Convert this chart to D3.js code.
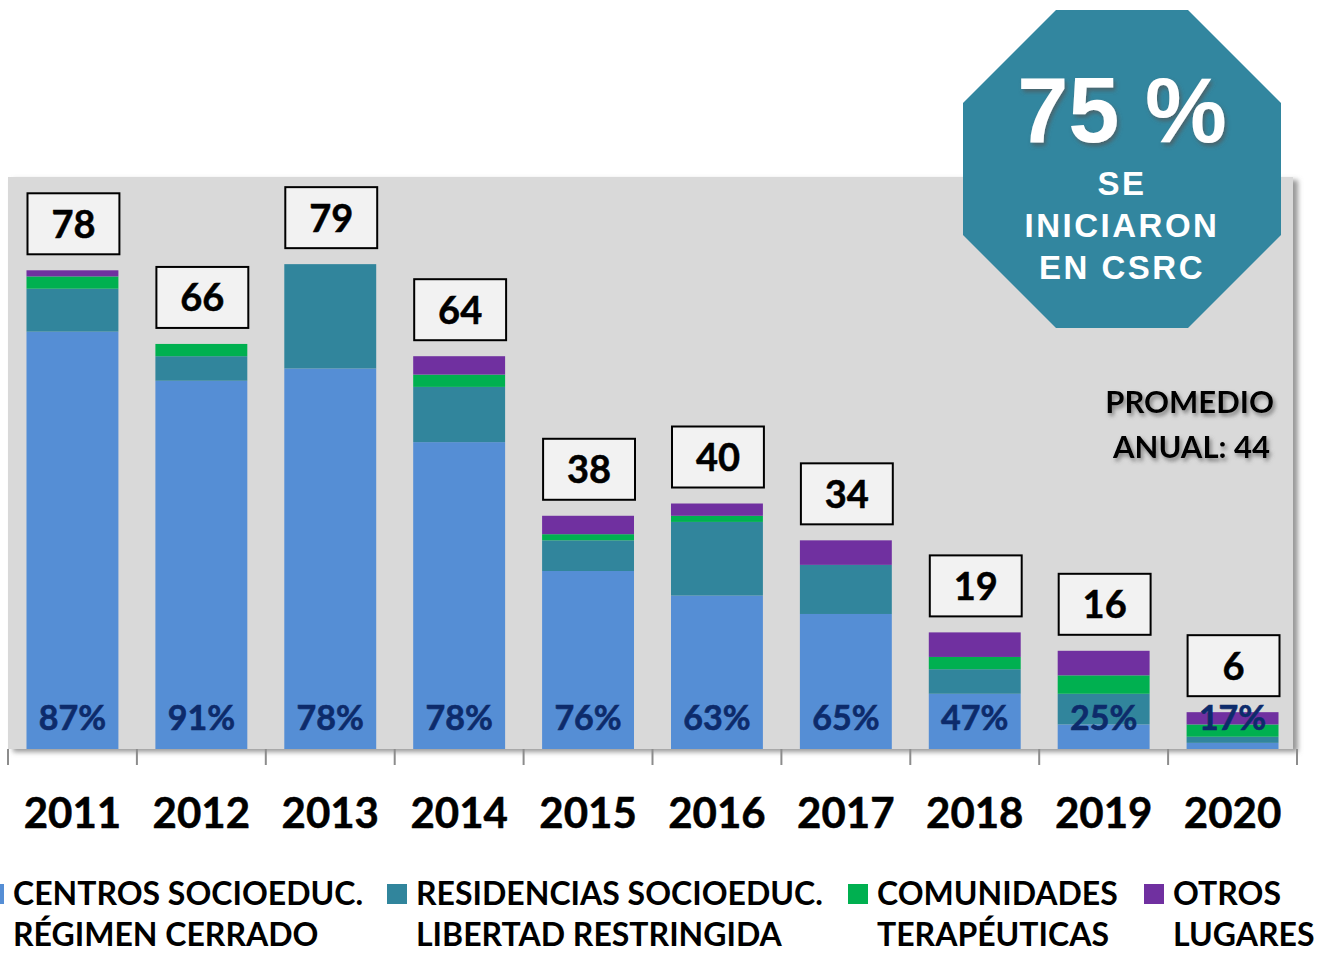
<!DOCTYPE html>
<html>
<head>
<meta charset="utf-8">
<script src="https://cdn.jsdelivr.net/npm/d3@7"></script>
<style>
  body { margin: 0; background: #fff; }
  svg { display: block; }
</style>
</head>
<body>
<script>
// data
var years = ["2011", "2012", "2013", "2014", "2015", "2016", "2017", "2018", "2019", "2020"];
var centros = [68, 60, 62, 50, 29, 25, 22, 9, 4, 1];
var residencias = [7, 4, 17, 9, 5, 12, 8, 4, 5, 1];
var comunidades = [2, 2, 0, 2, 1, 1, 0, 2, 3, 2];
var otros = [1, 0, 0, 3, 3, 2, 4, 4, 4, 2];
var promedio = 44;

var keys = ["centros", "residencias", "comunidades", "otros"];
var colors = ["#558ED5", "#31859C", "#00B050", "#7030A0"];
var legendLines = [
    ["CENTROS SOCIOEDUC.", "RÉGIMEN CERRADO"],
    ["RESIDENCIAS SOCIOEDUC.", "LIBERTAD RESTRINGIDA"],
    ["COMUNIDADES", "TERAPÉUTICAS"],
    ["OTROS", "LUGARES"]
];

var rows = years.map(function (y, i) {
    return { year: y, centros: centros[i], residencias: residencias[i], comunidades: comunidades[i], otros: otros[i] };
});
var totals = rows.map(function (d) { return keys.reduce(function (s, k) { return s + d[k]; }, 0); });

var width = 1328, height = 954;
var font = "Lato, 'Open Sans', sans-serif";

var svg = d3.select("body").append("svg")
    .attr("width", width)
    .attr("height", height);

var defs = svg.append("defs");
defs.append("filter").attr("id", "plotShadow")
    .attr("x", "-5%").attr("y", "-5%").attr("width", "110%").attr("height", "110%")
    .append("feDropShadow")
    .attr("dx", 5).attr("dy", 3).attr("stdDeviation", 2.5)
    .attr("flood-color", "#7f7f7f").attr("flood-opacity", 0.8);
defs.append("filter").attr("id", "lineShadow")
    .attr("x", "-5%").attr("y", "-300%").attr("width", "110%").attr("height", "700%")
    .append("feDropShadow")
    .attr("dx", 0).attr("dy", 3).attr("stdDeviation", 2)
    .attr("flood-color", "#666").attr("flood-opacity", 0.8);
defs.append("filter").attr("id", "textShadow")
    .attr("x", "-20%").attr("y", "-30%").attr("width", "140%").attr("height", "160%")
    .append("feDropShadow")
    .attr("dx", 2).attr("dy", 3).attr("stdDeviation", 2)
    .attr("flood-color", "#555").attr("flood-opacity", 0.7);

var plotLeft = 8, plotRight = 1293, plotTop = 177, plotBottom = 749;

var x = d3.scaleBand()
    .domain(years)
    .range([8, 1297])
    .paddingInner(0.287)
    .paddingOuter(0.1435);

var y = d3.scaleLinear()
    .domain([0, 93.2])
    .range([plotBottom, plotTop]);

// plot background
svg.append("rect")
    .attr("x", plotLeft).attr("y", plotTop)
    .attr("width", plotRight - plotLeft).attr("height", plotBottom - plotTop)
    .attr("fill", "#D9D9D9")
    .attr("filter", "url(#plotShadow)");

// promedio line
svg.append("line")
    .attr("x1", plotLeft).attr("x2", plotRight)
    .attr("y1", y(promedio)).attr("y2", y(promedio))
    .attr("stroke", "#fff").attr("stroke-width", 5)
    .attr("filter", "url(#lineShadow)");

var promText = svg.append("g").attr("filter", "url(#textShadow)");
promText.append("text")
    .attr("x", 1274).attr("y", 413)
    .attr("text-anchor", "end")
    .attr("font-family", font).attr("font-weight", 700).attr("font-size", 31)
    .attr("fill", "#000")
    .text("PROMEDIO");
promText.append("text")
    .attr("x", 1270).attr("y", 458)
    .attr("text-anchor", "end")
    .attr("font-family", font).attr("font-weight", 700).attr("font-size", 31)
    .attr("fill", "#000")
    .text("ANUAL: " + promedio);

// stacked bars
var stack = d3.stack().keys(keys);
var series = stack(rows);

svg.append("g").selectAll("g")
    .data(series)
    .join("g")
    .attr("fill", function (d, i) { return colors[i]; })
    .selectAll("rect")
    .data(function (d) { return d; })
    .join("rect")
    .attr("x", function (d) { return x(d.data.year); })
    .attr("y", function (d) { return y(d[1]); })
    .attr("width", x.bandwidth())
    .attr("height", function (d) { return y(d[0]) - y(d[1]); });

// percent labels
svg.append("g").selectAll("text")
    .data(rows)
    .join("text")
    .attr("x", function (d) { return x(d.year) + x.bandwidth() / 2; })
    .attr("y", plotBottom - 19)
    .attr("text-anchor", "middle")
    .attr("font-family", font).attr("font-weight", 700).attr("font-size", 34)
    .attr("fill", "#0D2B6B")
    .attr("stroke", "#0D2B6B").attr("stroke-width", 0.6)
    .text(function (d, i) { return Math.round(d.centros / totals[i] * 100) + "%"; });

// total boxes
var boxH = 61;
var boxes = svg.append("g").selectAll("g")
    .data(rows)
    .join("g")
    .attr("transform", function (d, i) {
        return "translate(" + x(d.year) + "," + (y(totals[i]) - 16 - boxH) + ")";
    });
boxes.append("rect")
    .attr("x", 1).attr("y", 0)
    .attr("width", x.bandwidth()).attr("height", boxH)
    .attr("fill", "#F2F2F2").attr("stroke", "#000").attr("stroke-width", 2);
boxes.append("text")
    .attr("x", x.bandwidth() / 2 + 1).attr("y", boxH / 2 + 14)
    .attr("text-anchor", "middle")
    .attr("font-family", font).attr("font-weight", 700).attr("font-size", 38)
    .attr("fill", "#000")
    .attr("stroke", "#000").attr("stroke-width", 0.5)
    .text(function (d, i) { return totals[i]; });

// x axis
var step = x.step();
var tickPos = years.map(function (d) { return x(d) - step * x.paddingInner() / 2; });
tickPos.push(x(years[years.length - 1]) + x.bandwidth() + step * x.paddingInner() / 2);
var axis = svg.append("g");
axis.append("line")
    .attr("x1", tickPos[0]).attr("x2", tickPos[tickPos.length - 1])
    .attr("y1", plotBottom + 1).attr("y2", plotBottom + 1)
    .attr("stroke", "#8c8c8c").attr("stroke-width", 2)
    .attr("filter", "url(#lineShadow)");
axis.selectAll(".tick")
    .data(tickPos)
    .join("line")
    .attr("class", "tick")
    .attr("x1", function (d) { return d; }).attr("x2", function (d) { return d; })
    .attr("y1", plotBottom).attr("y2", plotBottom + 16)
    .attr("stroke", "#8c8c8c").attr("stroke-width", 2);
axis.selectAll(".year")
    .data(years)
    .join("text")
    .attr("class", "year")
    .attr("x", function (d) { return x(d) + x.bandwidth() / 2; })
    .attr("y", 828)
    .attr("text-anchor", "middle")
    .attr("font-family", font).attr("font-weight", 700).attr("font-size", 42)
    .attr("fill", "#000")
    .attr("stroke", "#000").attr("stroke-width", 0.5)
    .text(function (d) { return d; });

// legend
var legendX = [-16, 387, 848, 1144];
var legend = svg.append("g").selectAll("g")
    .data(legendLines)
    .join("g")
    .attr("transform", function (d, i) { return "translate(" + legendX[i] + ",0)"; });
legend.append("rect")
    .attr("x", 0).attr("y", 884)
    .attr("width", 20).attr("height", 20)
    .attr("fill", function (d, i) { return colors[i]; });
legend.each(function (d) {
    var g = d3.select(this);
    d.forEach(function (line, j) {
        g.append("text")
            .attr("x", 29)
            .attr("y", 905 + j * 41)
            .attr("font-family", font).attr("font-weight", 700).attr("font-size", 32)
            .attr("fill", "#000")
            .text(line);
    });
});

// octagon badge
var cx = 1122, cy = 169, r = 159, cut = 93;
var octPts = [
    [cx - r + cut, cy - r], [cx + r - cut, cy - r], [cx + r, cy - r + cut], [cx + r, cy + r - cut],
    [cx + r - cut, cy + r], [cx - r + cut, cy + r], [cx - r, cy + r - cut], [cx - r, cy - r + cut]
];
svg.append("polygon")
    .attr("points", octPts.map(function (p) { return p.join(","); }).join(" "))
    .attr("fill", "#32869F");

svg.append("text")
    .attr("x", cx).attr("y", 142)
    .attr("text-anchor", "middle")
    .attr("font-family", "'Liberation Sans', Arial, sans-serif").attr("font-weight", 700).attr("font-size", 92)
    .attr("fill", "#fff")
    .attr("filter", "url(#textShadow)")
    .text("75 %");
["SE", "INICIARON", "EN CSRC"].forEach(function (t, i) {
    svg.append("text")
        .attr("x", cx).attr("y", 195 + i * 42)
        .attr("text-anchor", "middle")
        .attr("font-family", "'Liberation Sans', Arial, sans-serif").attr("font-weight", 700).attr("font-size", 33)
        .attr("letter-spacing", 2.5)
        .attr("fill", "#fff")
        .text(t);
});
</script>
</body>
</html>
